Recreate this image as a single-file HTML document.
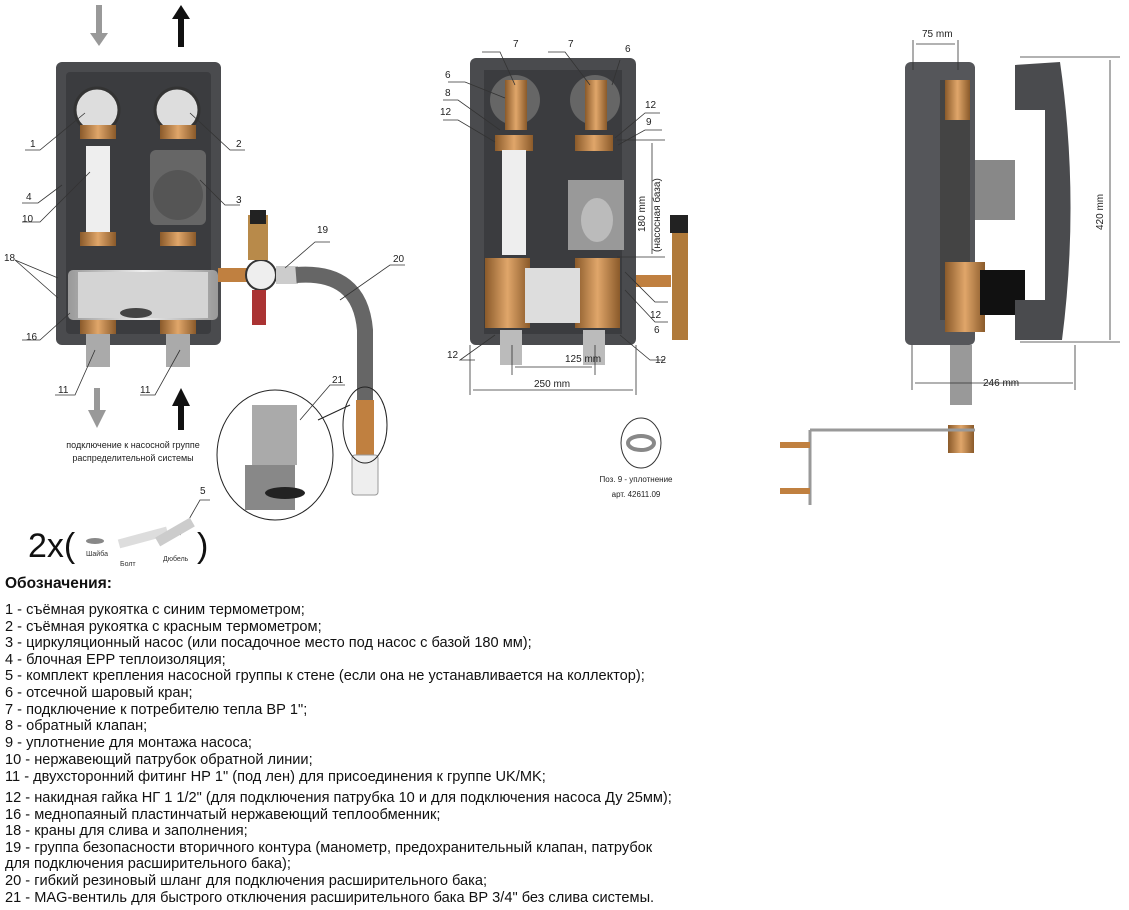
<!DOCTYPE html>
<html><head><meta charset="utf-8"><style>
html,body{margin:0;padding:0;background:#fff;}
svg{display:block;font-family:"Liberation Sans",sans-serif;}
.l{font-size:10px;fill:#222}
.lg{font-size:14.6px;fill:#111}
</style></head><body>
<svg width="1129" height="910" viewBox="0 0 1129 910" xmlns="http://www.w3.org/2000/svg">
<defs>
<linearGradient id="br" x1="0" x2="1"><stop offset="0" stop-color="#8a5a2a"/><stop offset=".5" stop-color="#e0a66a"/><stop offset="1" stop-color="#8a5a2a"/></linearGradient>
<linearGradient id="gr" x1="0" x2="1"><stop offset="0" stop-color="#999"/><stop offset=".5" stop-color="#eee"/><stop offset="1" stop-color="#999"/></linearGradient>
</defs>
<rect x="96" y="5" width="6" height="30" fill="#999"/><polygon points="90,33 108,33 99,46" fill="#999"/>
<rect x="178" y="17" width="6" height="30" fill="#111"/><polygon points="172,19 190,19 181,5" fill="#111"/>
<rect x="56" y="62" width="165" height="283" rx="6" fill="#4a4b4e"/>
<rect x="66" y="72" width="145" height="262" rx="4" fill="#3b3c3f"/>
<circle cx="97" cy="110" r="22" fill="#ddd" stroke="#333" stroke-width="3"/>
<circle cx="177" cy="110" r="22" fill="#ddd" stroke="#333" stroke-width="3"/>
<rect x="80" y="125" width="36" height="14" fill="url(#br)"/>
<rect x="160" y="125" width="36" height="14" fill="url(#br)"/>
<rect x="86" y="146" width="24" height="90" fill="#eee"/>
<rect x="150" y="150" width="56" height="75" rx="6" fill="#666"/>
<circle cx="178" cy="195" r="25" fill="#555"/>
<rect x="80" y="232" width="36" height="14" fill="url(#br)"/>
<rect x="160" y="232" width="36" height="14" fill="url(#br)"/>
<rect x="68" y="270" width="150" height="50" rx="5" fill="url(#gr)"/>
<rect x="78" y="272" width="130" height="46" fill="#d4d4d4"/>
<ellipse cx="136" cy="313" rx="16" ry="5" fill="#444"/>
<rect x="80" y="320" width="36" height="14" fill="url(#br)"/>
<rect x="160" y="320" width="36" height="14" fill="url(#br)"/>
<rect x="86" y="334" width="24" height="33" fill="#aaa"/>
<rect x="166" y="334" width="24" height="33" fill="#aaa"/>
<rect x="218" y="268" width="30" height="14" fill="#c08040"/>
<circle cx="261" cy="275" r="15" fill="#eee" stroke="#333" stroke-width="2"/>
<rect x="248" y="215" width="20" height="45" fill="#b88a4a"/><rect x="250" y="210" width="16" height="14" fill="#222"/>
<rect x="252" y="290" width="14" height="35" fill="#a33"/>
<rect x="276" y="266" width="22" height="18" fill="#ccc"/>
<path d="M296 275 Q360 270 365 330 L365 400" stroke="#666" stroke-width="16" fill="none"/>
<rect x="356" y="400" width="18" height="55" fill="#c08040"/>
<rect x="352" y="455" width="26" height="40" rx="3" fill="#eee" stroke="#999"/>
<ellipse cx="365" cy="425" rx="22" ry="38" fill="none" stroke="#222"/>
<ellipse cx="275" cy="455" rx="58" ry="65" fill="#fff" stroke="#222"/>
<rect x="252" y="405" width="45" height="60" fill="#aaa"/><rect x="245" y="465" width="50" height="45" fill="#888"/>
<ellipse cx="285" cy="493" rx="20" ry="6" fill="#222"/>
<path d="M318 420 L350 405" stroke="#222" fill="none"/>
<rect x="94" y="388" width="6" height="24" fill="#999"/><polygon points="88,410 106,410 97,428" fill="#999"/>
<rect x="178" y="405" width="6" height="25" fill="#111"/><polygon points="172,406 190,406 181,388" fill="#111"/>
<text x="133" y="448" class="l" text-anchor="middle" style="font-size:9px">подключение к насосной группе</text>
<text x="133" y="461" class="l" text-anchor="middle" style="font-size:9px">распределительной системы</text>
<g stroke="#333" fill="none" stroke-width=".8">
<path d="M25 150 H40 L85 113"/><path d="M245 150 H230 L190 113"/><path d="M240 205 H225 L200 180"/>
<path d="M22 203 H38 L62 185"/><path d="M22 222 H40 L90 172"/><path d="M15 260 L58 278 M15 260 L58 298"/>
<path d="M22 340 H40 L70 313"/><path d="M55 395 H75 L95 350"/><path d="M140 395 H155 L180 350"/>
<path d="M330 242 H315 L285 268"/><path d="M405 265 H390 L340 300"/><path d="M345 385 H330 L300 420"/>
<path d="M210 500 H200 L180 535"/>
</g>
<g class="l">
<text x="30" y="147">1</text><text x="236" y="147">2</text><text x="236" y="203">3</text><text x="26" y="200">4</text>
<text x="22" y="222">10</text><text x="4" y="261">18</text><text x="26" y="340">16</text><text x="58" y="393">11</text>
<text x="140" y="393">11</text><text x="317" y="233">19</text><text x="393" y="262">20</text><text x="332" y="383">21</text><text x="200" y="494">5</text>
</g>
<text x="28" y="557" style="font-size:34px" fill="#111">2x(</text>
<text x="197" y="557" style="font-size:34px" fill="#111">)</text>
<ellipse cx="95" cy="541" rx="9" ry="3" fill="#888"/>
<rect x="118" y="533" width="50" height="9" fill="#ddd" transform="rotate(-15 143 537)"/>
<rect x="155" y="527" width="40" height="10" fill="#ccc" transform="rotate(-30 175 532)"/>
<text x="86" y="556" style="font-size:7px" fill="#333">Шайба</text><text x="120" y="566" style="font-size:7px" fill="#333">Болт</text><text x="163" y="561" style="font-size:7px" fill="#333">Дюбель</text>
<rect x="470" y="58" width="166" height="287" rx="6" fill="#4a4b4e"/>
<rect x="484" y="70" width="138" height="264" fill="#3b3c3f"/>
<circle cx="515" cy="100" r="25" fill="#666"/><circle cx="595" cy="100" r="25" fill="#666"/>
<rect x="505" y="80" width="22" height="50" fill="url(#br)"/><rect x="585" y="80" width="22" height="50" fill="url(#br)"/>
<rect x="495" y="135" width="38" height="16" fill="url(#br)"/><rect x="575" y="135" width="38" height="16" fill="url(#br)"/>
<rect x="502" y="150" width="24" height="105" fill="#eee"/>
<rect x="568" y="180" width="56" height="70" fill="#999"/><ellipse cx="597" cy="220" rx="16" ry="22" fill="#bbb"/>
<rect x="485" y="258" width="45" height="70" fill="url(#br)"/><rect x="575" y="258" width="45" height="70" fill="url(#br)"/>
<rect x="525" y="268" width="55" height="55" fill="#ddd"/>
<rect x="500" y="330" width="22" height="35" fill="#bbb"/><rect x="583" y="330" width="22" height="35" fill="#bbb"/>
<rect x="636" y="275" width="35" height="12" fill="#c08040"/>
<rect x="672" y="230" width="16" height="110" fill="#b07a3a"/><rect x="670" y="215" width="18" height="18" fill="#222"/>
<g stroke="#333" fill="none" stroke-width=".8">
<path d="M448 82 H465 L505 98"/><path d="M548 52 H565 L590 85"/><path d="M482 52 H500 L515 85"/><path d="M620 60 L612 85"/>
<path d="M443 100 H458 L500 130"/><path d="M443 120 H458 L495 142"/><path d="M660 113 H645 L615 138"/><path d="M662 130 H645 L618 145"/>
<path d="M475 360 H460 L495 335"/><path d="M665 360 H650 L620 335"/><path d="M668 302 H655 L625 272"/><path d="M668 322 H655 L625 290"/>
<path d="M470 345 V395 M636 345 V395 M512 345 V375 M595 345 V375"/>
<path d="M617 140 H665 M617 257 H665"/>
</g>
<g class="l">
<text x="513" y="47">7</text><text x="568" y="47">7</text><text x="625" y="52">6</text><text x="445" y="78">6</text><text x="445" y="96">8</text>
<text x="440" y="115">12</text><text x="645" y="108">12</text><text x="646" y="125">9</text><text x="650" y="318">12</text><text x="654" y="333">6</text>
<text x="447" y="358">12</text><text x="655" y="363">12</text>
<text x="565" y="362">125 mm</text><text x="534" y="387">250 mm</text>
</g>
<line x1="515" y1="367" x2="592" y2="367" stroke="#333" stroke-width=".8"/>
<line x1="473" y1="390" x2="633" y2="390" stroke="#333" stroke-width=".8"/>
<line x1="652" y1="143" x2="652" y2="254" stroke="#333" stroke-width=".8"/>
<text transform="translate(645,232) rotate(-90)" class="l">180 mm</text>
<text transform="translate(660,252) rotate(-90)" class="l">(насосная база)</text>
<ellipse cx="641" cy="443" rx="20" ry="25" fill="#fff" stroke="#333"/>
<ellipse cx="641" cy="443" rx="13" ry="7" fill="none" stroke="#888" stroke-width="4"/>
<text x="636" y="482" class="l" text-anchor="middle" style="font-size:8px">Поз. 9 - уплотнение</text>
<text x="636" y="497" class="l" text-anchor="middle" style="font-size:8px">арт. 42611.09</text>
<rect x="905" y="62" width="70" height="283" rx="6" fill="#55565a"/>
<rect x="940" y="80" width="30" height="240" fill="#444"/>
<rect x="945" y="80" width="25" height="40" fill="url(#br)"/>
<rect x="945" y="262" width="40" height="70" fill="url(#br)"/>
<rect x="975" y="160" width="40" height="60" fill="#888"/>
<rect x="980" y="270" width="45" height="45" fill="#111"/>
<path d="M1015 65 L1060 62 Q1080 200 1062 340 L1015 340 L1015 300 L1045 300 L1045 110 L1015 110 Z" fill="#4a4b4e"/>
<rect x="950" y="345" width="22" height="60" fill="#999"/>
<rect x="948" y="425" width="26" height="28" fill="url(#br)"/>
<path d="M810 430 H975 M810 430 V505" stroke="#999" stroke-width="3" fill="none"/>
<rect x="780" y="442" width="30" height="6" fill="#c08040"/><rect x="780" y="488" width="30" height="6" fill="#c08040"/>
<g stroke="#333" stroke-width=".8" fill="none">
<path d="M913 40 V70 M958 40 V70 M916 44 H955"/>
<path d="M1020 57 H1120 M1020 342 H1120 M1110 60 V340"/>
<path d="M912 345 V390 M1075 345 V390 M915 383 H1073"/>
</g>
<text x="922" y="37" class="l">75 mm</text>
<text x="983" y="386" class="l">246 mm</text>
<text transform="translate(1103,230) rotate(-90)" class="l">420 mm</text>
<text x="5" y="588" style="font-size:15.5px;font-weight:bold" fill="#111">Обозначения:</text>
<g class="lg">
<text x="5" y="614">1 - съёмная рукоятка с синим термометром;</text>
<text x="5" y="631">2 - съёмная рукоятка с красным термометром;</text>
<text x="5" y="647">3 - циркуляционный насос (или посадочное место под насос с базой 180 мм);</text>
<text x="5" y="664">4 - блочная EPP теплоизоляция;</text>
<text x="5" y="680">5 - комплект крепления насосной группы к стене (если она не устанавливается на коллектор);</text>
<text x="5" y="697">6 - отсечной шаровый кран;</text>
<text x="5" y="714">7 - подключение к потребителю тепла ВР 1";</text>
<text x="5" y="730">8 - обратный клапан;</text>
<text x="5" y="747">9 - уплотнение для монтажа насоса;</text>
<text x="5" y="764">10 - нержавеющий патрубок обратной линии;</text>
<text x="5" y="781">11 - двухсторонний фитинг НР 1" (под лен) для присоединения к группе UK/MK;</text>
<text x="5" y="802">12 - накидная гайка НГ 1 1/2" (для подключения патрубка 10 и для подключения насоса Ду 25мм);</text>
<text x="5" y="819">16 - меднопаяный пластинчатый нержавеющий теплообменник;</text>
<text x="5" y="835">18 - краны для слива и заполнения;</text>
<text x="5" y="852">19 - группа безопасности вторичного контура (манометр, предохранительный клапан, патрубок</text>
<text x="5" y="868">для подключения расширительного бака);</text>
<text x="5" y="885">20 - гибкий резиновый шланг для подключения расширительного бака;</text>
<text x="5" y="902">21 - MAG-вентиль для быстрого отключения расширительного бака ВР 3/4" без слива системы.</text>
</g>
</svg>
</body></html>
